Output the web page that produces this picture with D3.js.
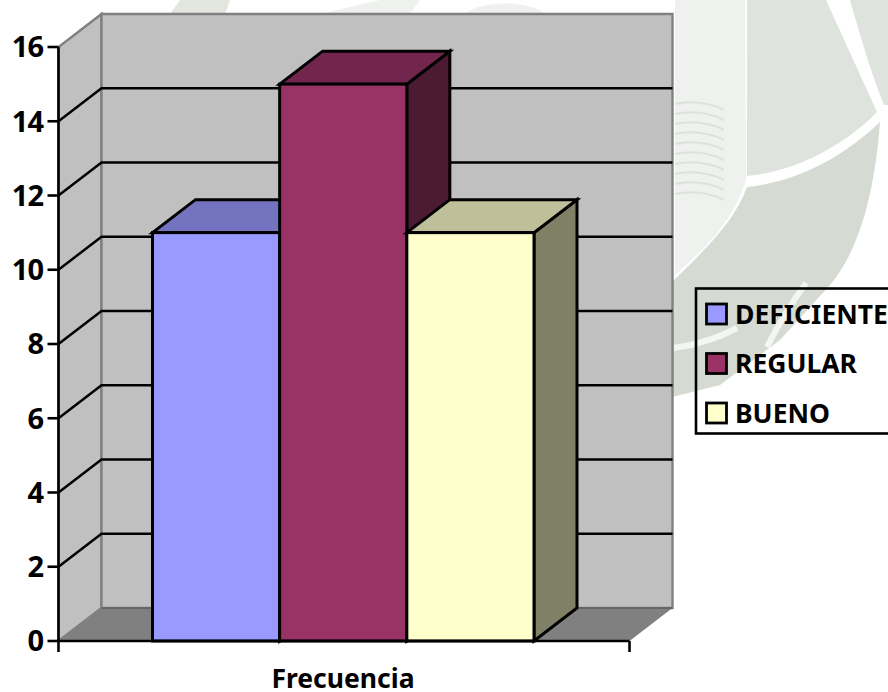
<!DOCTYPE html>
<html><head><meta charset="utf-8">
<script src="https://cdn.jsdelivr.net/npm/d3@7/dist/d3.min.js"></script>
<style>html,body{margin:0;padding:0;background:#fff}svg{display:block}text{font-family:"Noto Sans","Open Sans",sans-serif;font-weight:700;fill:#000}</style>
</head><body><svg id="c" width="888" height="692"></svg>
<script>
const categories = ["DEFICIENTE","REGULAR","BUENO"];
const values = [11,15,11];
const frontColors = ["#9999ff","#993366","#ffffcc"];
const topColors = ["#7373bf","#73264d","#bfbf99"];
const sideColors = ["#5c5c99","#4d1a33","#808066"];
const yTicks = [0,2,4,6,8,10,12,14,16];
const xLabel = "Frecuencia";

(function(){
const svg = d3.select("#c");
const y = d3.scaleLinear().domain([0,16]).range([641,47]);
const xFront = d3.scaleLinear().domain([0,1]).range([58.5,629.5]);
const band = d3.scaleBand().domain(categories).range([152.5,534]).padding(0);
const dx = 43, dy = -33;
const pts = a => a.map(p=>p.join(",")).join(" ");

// faint watermark behind the chart
const wm = svg.append("g");
const wmShapes = [
 ["#eef1ee","M675,0 L745,0 L746,180 C735,215 715,240 675,275 Z"],
 ["#dfe3de","M747,0 L826,0 L877,112 C840,150 790,172 747,176 Z"],
 ["#d5dad2","M747,187 C795,182 840,160 880,122 C875,190 860,250 830,285 L780,340 L720,385 L660,400 L672,282 C710,245 735,220 747,187 Z"],
 ["#dfe3de","M850,0 L888,0 L888,105 L884,105 C870,70 860,35 850,0 Z"],
 ["#e2e6df","M170,14 L180,0 L230,0 L225,14 Z"],
 ["#eef1ee","M320,14 L380,0 L420,0 L410,14 Z"],
 ["#eef1ee","M465,14 C480,0 530,0 545,14 Z"]
];
wm.selectAll("path").data(wmShapes).join("path").attr("d",d=>d[1]).attr("fill",d=>d[0]);
const wmStreaks = ["M806,283 C790,305 778,325 767,347","M737,328 C715,340 695,345 674,348"];
wm.selectAll(".st").data(wmStreaks).join("path").attr("class","st").attr("d",d=>d).attr("fill","none").attr("stroke","#f4f6f3").attr("stroke-width",6);
const wmBook = [104,114,124,134,144,154,164,174,184,194];
wm.selectAll(".bk").data(wmBook).join("path").attr("class","bk").attr("d",d=>`M675,${d} C695,${d-4} 712,${d} 724,${d+6}`).attr("fill","none").attr("stroke","#dde1dc").attr("stroke-width",2);

// walls
const floorFront = y(0), topY = y(16);
const xL = xFront(0), xR = xFront(1);
svg.append("polygon").attr("points",pts([[xL,floorFront],[xL,topY],[xL+dx,topY+dy],[xL+dx,floorFront+dy]])).attr("fill","#c0c0c0").attr("stroke","#808080").attr("stroke-width",2.4);
svg.append("polygon").attr("points",pts([[xL+dx,floorFront+dy],[xL+dx,topY+dy],[xR+dx,topY+dy],[xR+dx,floorFront+dy]])).attr("fill","#c0c0c0").attr("stroke","#808080").attr("stroke-width",2.4);
svg.append("polygon").attr("points",pts([[xL,floorFront],[xL+dx,floorFront+dy],[xR+dx,floorFront+dy],[xR,floorFront]])).attr("fill","#808080");
svg.append("line").attr("x1",xL+dx).attr("x2",xR+dx).attr("y1",floorFront+dy).attr("y2",floorFront+dy).attr("stroke","#666").attr("stroke-width",2);

// gridlines
const grid = svg.append("g").attr("fill","none").attr("stroke","#000").attr("stroke-width",2.5);
yTicks.filter(t=>t>0&&t<16).forEach(t=>{
  grid.append("polyline").attr("points",pts([[xL,y(t)],[xL+dx,y(t)+dy],[xR+dx,y(t)+dy]]));
});

// bars
const bars = svg.append("g").selectAll("g").data(categories).join("g");
const bw = band.bandwidth();
const barStroke = s => s.attr("stroke","#000").attr("stroke-width",3).attr("stroke-linejoin","miter");
bars.append("polygon").attr("points",(d,i)=>{const x=band(d)+bw,v=y(values[i]);return pts([[x,v],[x+dx,v+dy],[x+dx,y(0)+dy],[x,y(0)]]);}).attr("fill",(d,i)=>sideColors[i]).call(barStroke);
bars.append("polygon").attr("points",(d,i)=>{const x=band(d),v=y(values[i]);return pts([[x,v],[x+dx,v+dy],[x+bw+dx,v+dy],[x+bw,v]]);}).attr("fill",(d,i)=>topColors[i]).call(barStroke);
bars.append("rect").attr("x",d=>band(d)).attr("y",(d,i)=>y(values[i])).attr("width",bw).attr("height",(d,i)=>y(0)-y(values[i])).attr("fill",(d,i)=>frontColors[i]).call(barStroke);

// axes
const ax = svg.append("g").attr("stroke","#000").attr("stroke-width",2.6);
ax.append("line").attr("x1",xL).attr("x2",xL).attr("y1",topY).attr("y2",floorFront+11);
ax.append("line").attr("x1",xL-0.5).attr("x2",xR).attr("y1",floorFront).attr("y2",floorFront);
ax.append("line").attr("x1",xR).attr("x2",xR).attr("y1",floorFront).attr("y2",floorFront+11);
ax.selectAll(".tk").data(yTicks).join("line").attr("class","tk").attr("x1",xL-11).attr("x2",xL).attr("y1",d=>y(d)).attr("y2",d=>y(d));
svg.append("g").selectAll("text").data(yTicks).join("text").attr("x",43).attr("y",d=>y(d)).attr("dy","0.36em").attr("text-anchor","end").style("font-size","29px").style("letter-spacing","-1px").text(d=>d);
svg.append("text").attr("x",343).attr("y",688).attr("text-anchor","middle").style("font-size","26.5px").text(xLabel);

// legend
const lg = svg.append("g");
lg.append("rect").attr("x",696).attr("y",288.5).attr("width",200).attr("height",145).attr("fill","none").attr("stroke","#000").attr("stroke-width",2.6);
const row = d3.scalePoint().domain(categories).range([314,413]);
const items = lg.selectAll("g").data(categories).join("g");
items.append("rect").attr("x",706.5).attr("y",d=>row(d)-10).attr("width",20).attr("height",20).attr("fill",(d,i)=>frontColors[i]).attr("stroke","#000").attr("stroke-width",2.8);
items.append("text").attr("x",735).attr("y",d=>row(d)).attr("dy","0.36em").style("font-size","26.5px").text(d=>d);
})();
</script></body></html>
